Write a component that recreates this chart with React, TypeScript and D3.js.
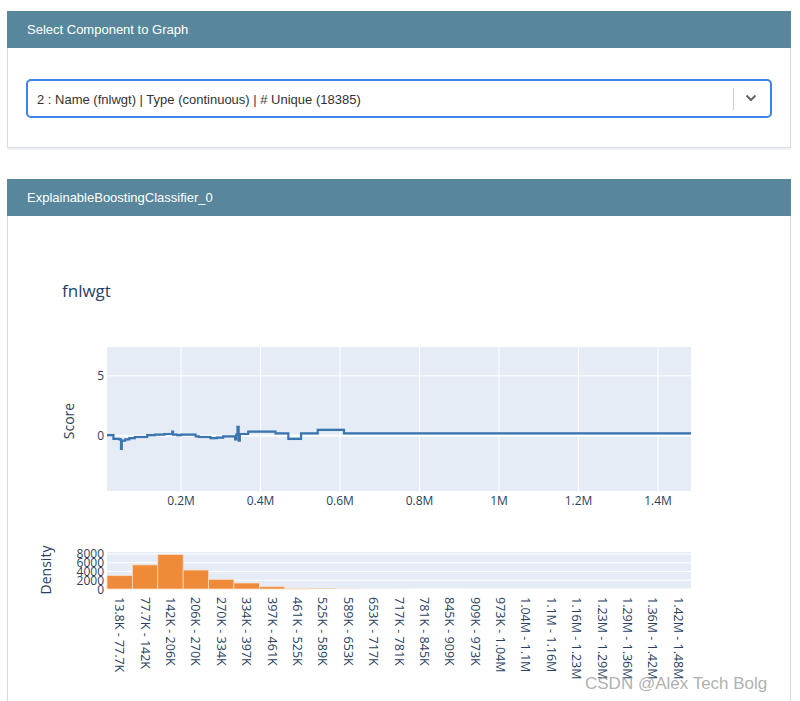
import React from 'react'
import * as d3 from 'd3'

// score step function: bin left edges (in units of 1M) and the score in each bin
const scoreEdges = [
  0.0138, 0.03, 0.045, 0.049, 0.051, 0.06, 0.07, 0.084, 0.115, 0.135, 0.158, 0.178, 0.18,
  0.19, 0.2, 0.237, 0.245, 0.274, 0.29, 0.306, 0.336, 0.339, 0.342, 0.345, 0.348, 0.369,
  0.438, 0.47, 0.502, 0.544, 0.61,
]
const scoreValues = [
  0.05, -0.25, -0.3, -1.1, -0.4, -0.3, -0.2, -0.1, 0.05, 0.1, 0.15, 0.35, 0.1,
  0.05, 0.1, -0.05, -0.1, -0.2, -0.15, -0.05, -0.3, 0.1, 0.75, -0.4, 0.15, 0.35,
  0.2, -0.25, 0.2, 0.5, 0.2,
]
const scoreMaxX = 1.483
const scoreXTicks = [0.2, 0.4, 0.6, 0.8, 1, 1.2, 1.4]
const scoreYTicks = [0, 5]

// density histogram
const binLabels = [
  '13.8K - 77.7K', '77.7K - 142K', '142K - 206K', '206K - 270K', '270K - 334K',
  '334K - 397K', '397K - 461K', '461K - 525K', '525K - 589K', '589K - 653K',
  '653K - 717K', '717K - 781K', '781K - 845K', '845K - 909K', '909K - 973K',
  '973K - 1.04M', '1.04M - 1.1M', '1.1M - 1.16M', '1.16M - 1.23M', '1.23M - 1.29M',
  '1.29M - 1.36M', '1.36M - 1.42M', '1.42M - 1.48M',
]
const binCounts = [
  3050, 5500, 7850, 4330, 2200, 1370, 520, 180, 70, 30, 15, 8, 5, 3, 2, 1, 1, 1, 0, 0, 0, 0, 1,
]
const densityTicks = [0, 2000, 4000, 6000, 8000]

const HEADER = '#58879d'
const INK = '#2a3f5f'
const PLOT_BG = '#e5ecf6'
const UI_FONT = '"Liberation Sans", Arial, sans-serif'
const CHART_FONT = '"Open Sans", verdana, arial, sans-serif'

export default function App() {
  const W = 800
  const H = 701

  // score plot
  const sp = { left: 107, right: 691, top: 347, bottom: 491 }
  const x = d3.scaleLinear().domain([0.0138, scoreMaxX]).range([sp.left, sp.right])
  const y = d3.scaleLinear().domain([-4.6, 7.4]).range([sp.bottom, sp.top])

  const stepPts: [number, number][] = scoreEdges.map((e, i) => [e, scoreValues[i]])
  stepPts.push([scoreMaxX, scoreValues[scoreValues.length - 1]])
  const stepLine = d3.line<[number, number]>()
    .x(d => x(d[0]))
    .y(d => y(d[1]))
    .curve(d3.curveStepAfter)
  const band = d3.area<[number, number]>()
    .x(d => x(d[0]))
    .y0(d => y(d[1] - 0.12))
    .y1(d => y(d[1] + 0.12))
    .curve(d3.curveStepAfter)

  // histogram
  const hp = { left: 107, right: 691, top: 552, bottom: 589 }
  const hx = d3.scaleBand<string>().domain(binLabels).range([hp.left, hp.right]).padding(0)
  const hy = d3.scaleLinear().domain([0, 8450]).range([hp.bottom, hp.top])

  return (
    <div style={{ position: 'absolute', left: 0, top: 0 }}>
      <svg width={W} height={H} style={{ display: 'block' }}>
        <rect width={W} height={H} fill="#fff" />

        {/* panel 1 */}
        <rect x={8} y={148} width={782} height={2} fill="#f1f2f4" />
        <rect x={7.5} y={11.5} width={783} height={136} fill="#fff" stroke="#d6dbe1" />
        <rect x={7} y={11} width={784} height={37} fill={HEADER} />
        <text x={27} y={34} fontFamily={UI_FONT} fontSize={13} fill="#fff">
          Select Component to Graph
        </text>
        <rect x={27} y={80} width={744} height={37} rx={4} fill="#fff" stroke="#3f82e8" strokeWidth={2} />
        <text x={37} y={103.5} fontFamily={UI_FONT} fontSize={13} fill="#333">
          2 : Name (fnlwgt) | Type (continuous) | # Unique (18385)
        </text>
        <line x1={733.5} x2={733.5} y1={88} y2={110} stroke="#ccc" />
        <path d="M746.5,95.5 L751,100 L755.5,95.5" fill="none" stroke="#666" strokeWidth={2} />

        {/* panel 2 */}
        <rect x={7.5} y={179.5} width={783} height={540} fill="#fff" stroke="#d6dbe1" />
        <rect x={7} y={179} width={784} height={37} fill={HEADER} />
        <text x={27} y={202} fontFamily={UI_FONT} fontSize={13} fill="#fff">
          ExplainableBoostingClassifier_0
        </text>

        <g fontFamily={CHART_FONT} fill={INK}>
          <text x={62} y={297} fontSize={17}>fnlwgt</text>

          {/* score plot */}
          <rect x={sp.left} y={sp.top} width={sp.right - sp.left} height={sp.bottom - sp.top} fill={PLOT_BG} />
          {scoreXTicks.map(t => (
            <line key={t} x1={x(t)} x2={x(t)} y1={sp.top} y2={sp.bottom} stroke="#fff" strokeWidth={1} />
          ))}
          {scoreYTicks.map(t => (
            <line key={t} x1={sp.left} x2={sp.right} y1={y(t)} y2={y(t)} stroke="#fff" strokeWidth={t === 0 ? 2 : 1} />
          ))}
          <path d={band(stepPts) || ''} fill="#3a75b0" fillOpacity={0.15} />
          <path d={stepLine(stepPts) || ''} fill="none" stroke="#3a75b0" strokeWidth={2.2} />
          {scoreXTicks.map(t => (
            <text key={t} x={x(t)} y={505} fontSize={12} textAnchor="middle">
              {d3.format('~g')(t)}M
            </text>
          ))}
          {scoreYTicks.map(t => (
            <text key={t} x={104} y={y(t)} fontSize={12} textAnchor="end" dominantBaseline="central">
              {t}
            </text>
          ))}
          <text transform={`translate(74,${(sp.top + sp.bottom) / 2 + 2}) rotate(-90)`} fontSize={14} textAnchor="middle">
            Score
          </text>

          {/* density histogram */}
          <rect x={hp.left} y={hp.top} width={hp.right - hp.left} height={hp.bottom - hp.top} fill={PLOT_BG} />
          {densityTicks.map(t => (
            <line key={t} x1={hp.left} x2={hp.right} y1={hy(t)} y2={hy(t)} stroke="#fff" strokeWidth={1} />
          ))}
          {binLabels.map((b, i) => (
            <rect
              key={b}
              x={hx(b)}
              y={hy(binCounts[i])}
              width={hx.bandwidth()}
              height={hy(0) - hy(binCounts[i])}
              fill="#ef8a38"
              stroke="#f7dcc4"
              strokeWidth={binCounts[i] > 100 ? 0.8 : 0}
            />
          ))}
          {densityTicks.map(t => (
            <text key={t} x={104} y={hy(t)} fontSize={12} textAnchor="end" dominantBaseline="central">
              {t}
            </text>
          ))}
          {binLabels.map(b => (
            <text
              key={b}
              transform={`translate(${(hx(b) || 0) + hx.bandwidth() / 2},597) rotate(90)`}
              fontSize={12.5}
              dominantBaseline="central"
            >
              {b}
            </text>
          ))}
          <text transform={`translate(51,570) rotate(-90)`} fontSize={14} textAnchor="middle">
            Density
          </text>
        </g>

        <text x={585} y={689} fontFamily={UI_FONT} fontSize={17} fill="#9a9a9a" fillOpacity={0.8}>
          CSDN @Alex Tech Bolg
        </text>
      </svg>
    </div>
  )
}
